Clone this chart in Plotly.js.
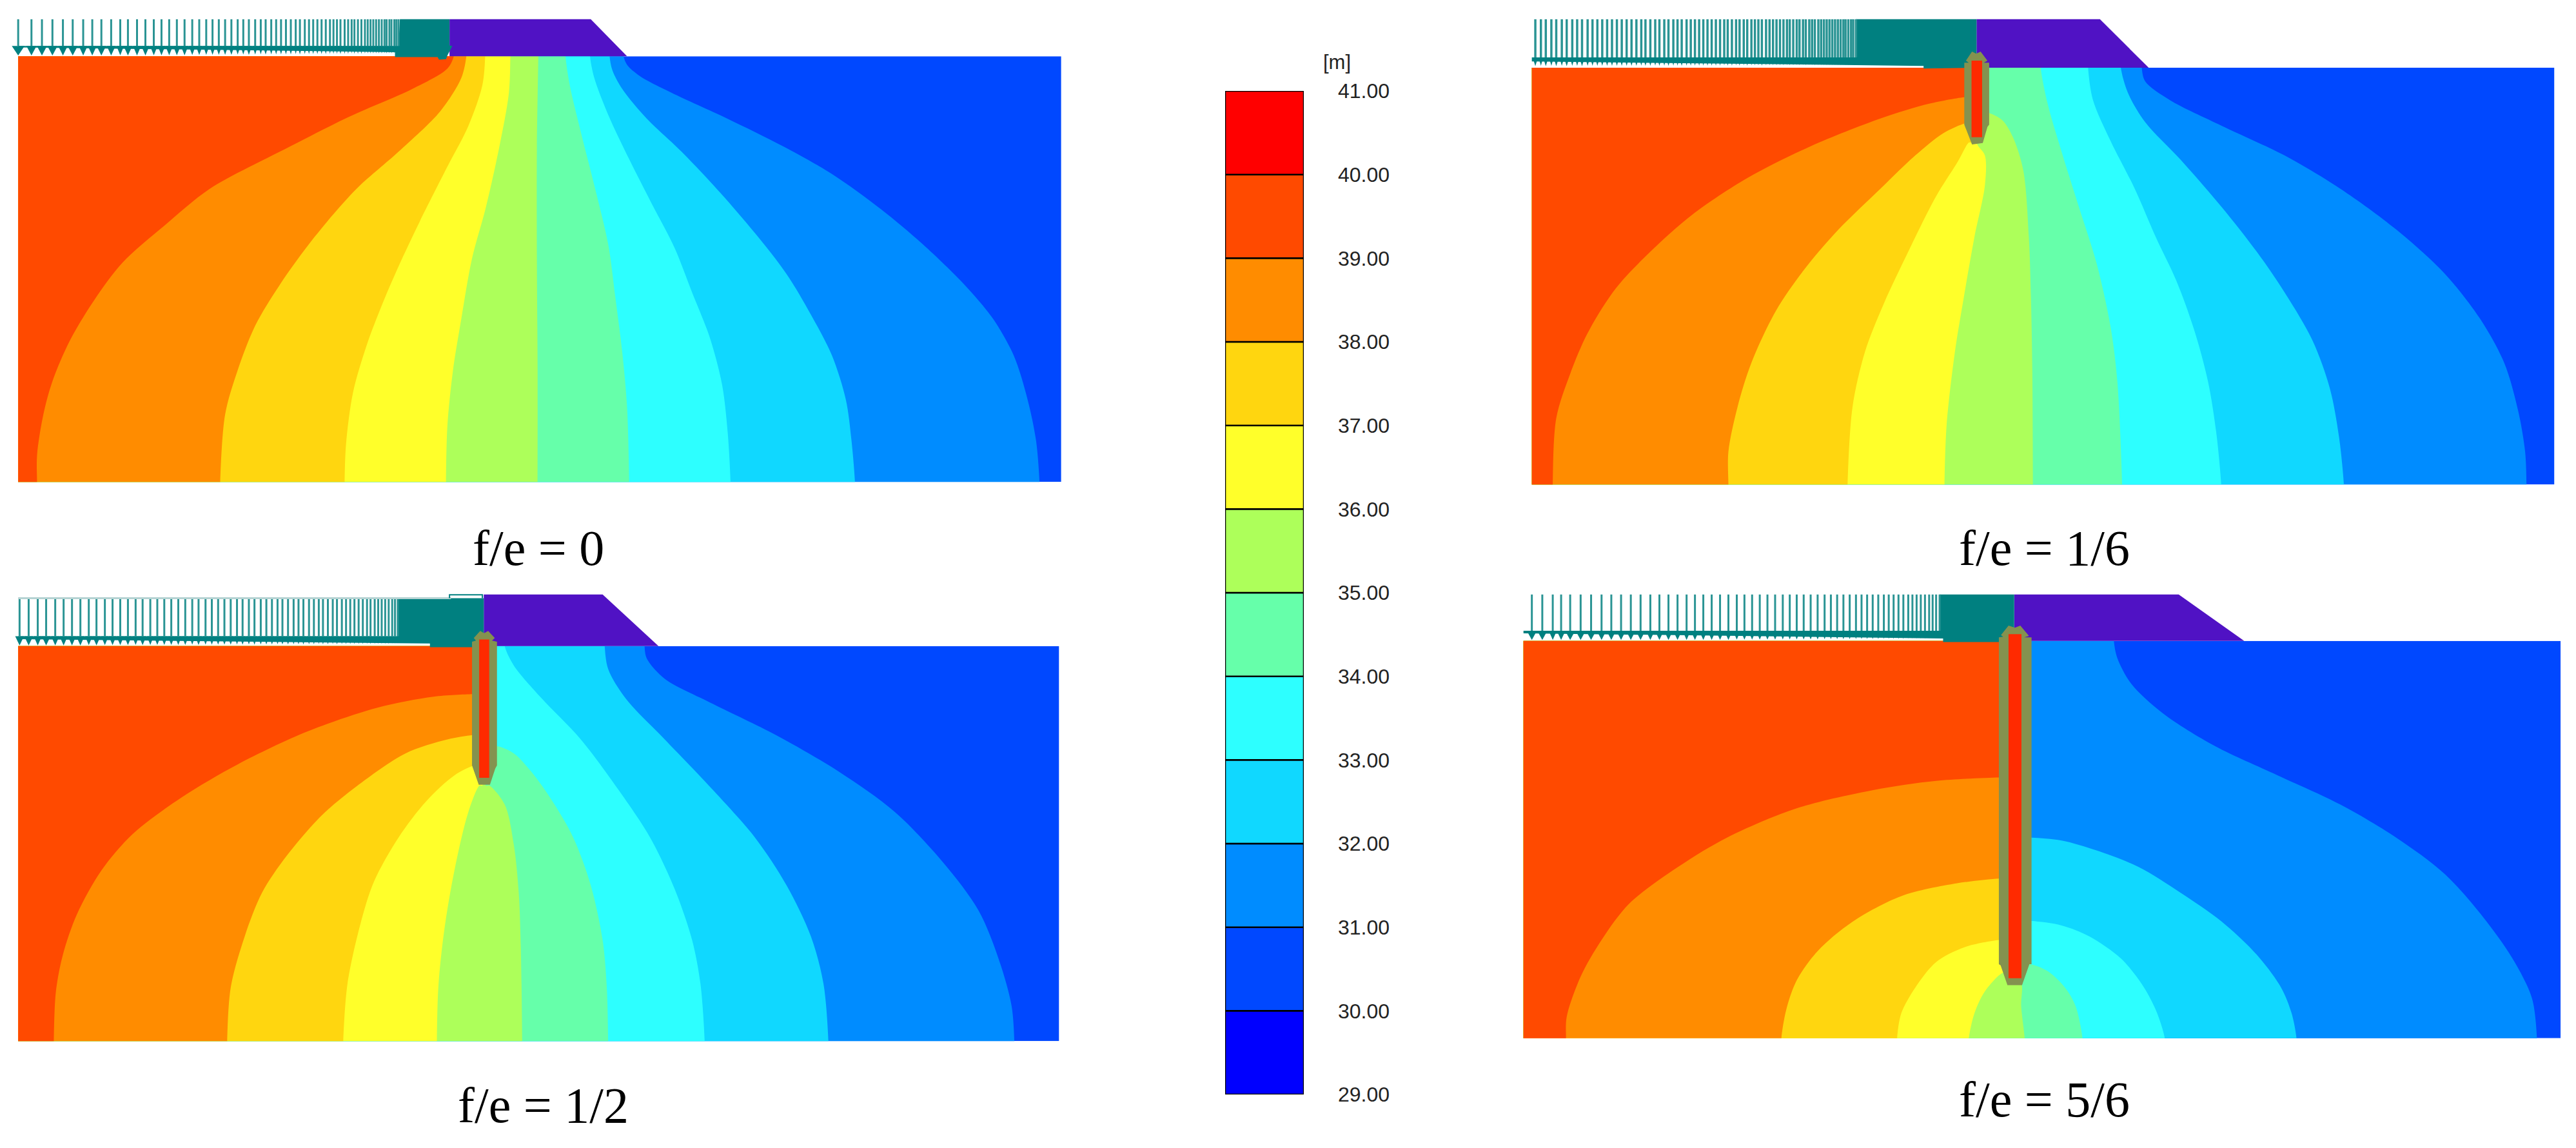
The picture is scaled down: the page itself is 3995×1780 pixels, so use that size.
<!DOCTYPE html>
<html><head><meta charset="utf-8">
<script src="https://cdn.plot.ly/plotly-3.0.1.min.js"></script>
<style>html,body{margin:0;padding:0;background:#fff;overflow:hidden}#c{width:3995px;height:1780px}</style>
</head><body><div id="c"></div>
<script>
// colour scale of total head [m]
const headTicks = [29,30,31,32,33,34,35,36,37,38,39,40,41];
const bandBase = [29,30,31,32,33,34,35,36,37,38,39,40];
const bandColors = ['#0000ff','#0048ff','#008cff','#10d8ff','#2dffff','#66ffaa','#adff5a','#ffff2a','#ffd60f','#ff8c00','#ff4a00','#ff0000'];
const captions = ['f/e = 0','f/e = 1/6','f/e = 1/2','f/e = 5/6'];

// Panel A : f/e = 0. Head contours, model units, each from crest to base
const A_rect = [26,1518,152,1302];
const A31 = [[892,152],[897,175],[915,205],[960,250],[1040,320],[1120,395],[1190,470],[1260,565],[1320,660],[1380,770],[1420,860],[1450,960],[1470,1080],[1482,1190],[1487,1302]];
const A32 = [[872,152],[876,190],[890,240],[925,320],[975,410],[1030,520],[1080,630],[1125,740],[1160,850],[1190,960],[1210,1080],[1218,1190],[1223,1302]];
const A33 = [[844,152],[850,210],[870,310],[900,430],[935,560],[965,670],[990,790],[1015,910],[1033,1040],[1041,1170],[1045,1302]];
const A34 = [[809,152],[815,230],[830,350],[850,500],[870,660],[880,800],[890,950],[897,1100],[900,1302]];
const A35 = [[770,152],[768,400],[768,700],[769,1000],[769,1302]];
const A36 = [[730,152],[728,250],[715,390],[695,560],[675,700],[660,860],[648,1000],[640,1150],[638,1302]];
const A37 = [[694,152],[690,230],[670,340],[640,450],[600,600],[570,720],[545,830],[525,930],[505,1060],[495,1200],[493,1302]];
const A38 = [[667,152],[660,210],[630,300],[570,410],[510,510],[450,640],[400,770],[365,880],[340,1000],[322,1120],[315,1302]];
const A39 = [[649,152],[640,185],[590,240],[500,315],[400,410],[300,510],[235,610],[175,710],[135,810],[100,920],[75,1030],[62,1120],[53,1230],[53,1302]];
const A_fill = [[643,52],[845,52],[897,152],[643,152]];
const A_load = [[572,52],[643,52],[643,123],[647,124],[640,150],[638,160],[628,161],[626,154],[565,154],[565,141],[26,128],[26,124],[570,124]];
const A_arrows = [26,45,60,75,90,104,119,132,145,159,172,183,196,208,220,231,242,253,264,275,285,295,304,313,322,331,340,348,356,365,373,380,388,395,402,409,416,423,429,436,442,448,454,460,466,472,477,482,487,493,498,503,507,512,517,522,526,530,534,538,542,546,550,553,557,560,564,567,570];
const A_arrowY = [52,124,150];

// Panel B : f/e = 1/6
const B_rect = [70,1537,183,1309];
const B31 = [[945,183],[950,220],[985,270],[1060,340],[1150,420],[1230,510],[1310,620],[1380,740],[1430,860],[1465,980],[1485,1110],[1495,1220],[1497,1309]];
const B32 = [[915,183],[925,250],[950,330],[1000,430],[1060,560],[1110,680],[1150,790],[1190,920],[1215,1050],[1228,1180],[1235,1309]];
const B33 = [[868,183],[875,270],[900,380],[935,510],[965,640],[995,760],[1020,890],[1040,1030],[1052,1170],[1059,1309]];
const B34 = [[800,183],[810,280],[830,410],[855,560],[880,710],[900,880],[910,1030],[917,1309]];
const B35 = [[710,183],[710,305],[725,305],[745,325],[760,370],[775,460],[783,640],[786,800],[788,1000],[789,1309]];
const B36 = [[708,183],[708,385],[720,420],[720,500],[705,640],[690,800],[677,950],[665,1150],[662,1309]];
const B37 = [[700,183],[700,385],[697,385],[680,440],[650,530],[610,680],[575,820],[548,950],[530,1100],[523,1309]];
const B38 = [[700,183],[700,333],[692,333],[660,360],[620,420],[570,510],[510,620],[460,730],[420,840],[385,980],[365,1100],[352,1220],[352,1309]];
const B39 = [[700,183],[700,262],[692,262],[640,280],[570,320],[470,395],[380,480],[300,580],[240,680],[190,780],[150,900],[125,1010],[105,1130],[100,1309]];
const B_fill = [[708,52],[885,52],[955,183],[708,183]];
const B_load = [[535,52],[708,52],[708,183],[632,185],[632,178],[70,166],[70,155],[535,155]];
const B_arrows = [75,83,90,98,105,113,120,128,135,142,150,157,164,171,178,185,192,199,206,213,220,227,233,240,247,253,260,266,273,279,285,292,298,304,310,316,322,328,334,340,346,351,357,363,368,374,379,385,390,395,400,406,411,416,421,426,431,436,440,445,450,454,459,463,468,472,476,481,485,489,493,497,501,505,509,513,517,520,524,528,531,535];
const B_arrowY = [52,155,181];
const B_wall = [[690.4,169.6],[696.8,169.6],[692.8,163.8],[701.5,139.4],[707.6,145.2],[713.8,139.4],[723.6,163.8],[718.4,169.6],[726.1,169.6],[726.1,336.8],[723.6,342.6],[716.9,386.2],[701.5,390.2],[692.2,342.6],[690.4,336.8]];
const B_core = [[700.8,163.8],[716,163.8],[716,370.5],[700.8,370.5]];

// Panel C : f/e = 1/2
const C_rect = [26,1515,197,1276];
const C31 = [[922,197],[925,230],[950,285],[1020,355],[1110,440],[1200,540],[1280,650],[1350,790],[1400,920],[1430,1060],[1447,1180],[1451,1276]];
const C32 = [[865,197],[870,260],[895,340],[950,450],[1020,590],[1080,720],[1125,850],[1160,990],[1178,1120],[1185,1276]];
const C33 = [[722,197],[735,250],[775,340],[830,450],[885,590],[930,720],[965,860],[990,1000],[1002,1120],[1008,1276]];
const C34 = [[700,197],[700,470],[711,470],[735,490],[760,540],[790,620],[820,720],[845,850],[862,1000],[868,1130],[870,1276]];
const C35 = [[695,197],[695,578],[700,578],[722,630],[735,740],[742,870],[745,1020],[747,1276]];
const C36 = [[690,197],[690,578],[686,578],[670,650],[650,810],[635,980],[627,1130],[625,1276]];
const C37 = [[690,197],[690,522],[680,522],[650,550],[610,620],[570,720],[535,840],[515,960],[497,1120],[491,1276]];
const C38 = [[690,197],[690,440],[676,440],[640,452],[580,490],[510,580],[460,660],[410,770],[375,870],[350,990],[330,1130],[325,1276]];
const C39 = [[690,197],[690,328],[676,328],[620,335],[540,365],[440,430],[340,520],[260,610],[190,710],[145,810],[110,930],[90,1040],[80,1140],[77,1276]];
const C_fill = [[692,56],[862,56],[942,197],[692,197]];
const C_load = [[568,66],[692,66],[692,197],[676,200],[615,200],[615,190],[26,178],[26,170],[568,170]];
const C_arrows = [28,41,54,66,79,91,103,115,127,138,150,161,172,183,194,204,215,225,235,245,255,265,275,284,294,303,312,321,330,339,347,356,364,373,381,389,397,404,412,420,427,434,442,449,456,462,469,476,482,489,495,501,507,513,519,525,530,536,541,546,551,556,561,565,569];
const C_arrowY = [66,170,195];
const C_wall = [[675.2,185],[680.8,182],[677.7,175],[686.9,155.6],[692.5,161.5],[698.3,155.6],[707.8,175],[703.8,182],[710.9,185],[710.9,522.7],[708.4,531.5],[700.8,575.5],[684.8,575.5],[676.8,531.5],[675.2,522.7]];
const C_core = [[685.4,179],[699.8,179],[699.8,556.7],[685.4,556.7]];
const C_capBox = [[643,66],[643,57],[690,57],[690,66]];
const C_capRule = [[26,66],[645,66]];

// Panel D : f/e = 5/6
const D_rect = [58,1546,183,1268];
const D31 = [[905,183],[910,230],[930,300],[975,380],[1050,470],[1140,550],[1230,630],[1310,720],[1380,820],[1440,950],[1480,1060],[1505,1160],[1512,1268]];
const D32 = [[770,183],[770,720],[787,720],[830,728],[880,755],[940,800],[1000,870],[1060,950],[1110,1040],[1145,1130],[1160,1200],[1167,1268]];
const D33 = [[770,183],[770,948],[787,948],[830,960],[870,990],[915,1050],[945,1120],[965,1190],[978,1268]];
const D34 = [[770,183],[770,1066],[785,1066],[810,1085],[835,1130],[850,1180],[860,1268]];
const D35 = [[762,183],[762,1120],[772,1120],[772,1180],[777,1268]];
const D36 = [[755,183],[755,1090],[745,1090],[720,1140],[705,1200],[697,1268]];
const D37 = [[755,183],[755,1000],[740,1000],[690,1020],[650,1060],[620,1130],[600,1200],[594,1268]];
const D38 = [[755,183],[755,832],[740,832],[680,845],[600,880],[530,950],[480,1030],[450,1110],[435,1190],[428,1268]];
const D39 = [[755,183],[755,556],[740,556],[650,565],[560,590],[450,640],[350,720],[280,800],[210,900],[170,1000],[140,1100],[120,1210],[119,1268]];
const D_fill = [[762,56],[998,56],[1092,183],[762,183]];
const D_load = [[655,56],[762,56],[762,186],[660,186],[660,176],[58,162],[58,155],[655,155]];
const D_arrows = [70,85,100,112,125,140,155,170,184,198,212,226,240,253,266,279,292,304,316,328,340,352,364,375,386,397,408,419,430,440,450,460,470,480,490,499,508,517,526,535,543,551,559,567,575,582,589,596,603,610,616,622,628,634,640,645,650,655];
const D_arrowY = [56,155,180];
const D_wall = [[740,173.2],[746.2,171.5],[743,167],[753.9,141],[763.1,146.8],[770.8,141],[783.2,169.1],[776.4,173.2],[786.9,173.2],[786.9,1066],[783.8,1066],[773.3,1123],[752.3,1123],[742.5,1069],[740,1066]];
const D_core = [[753.9,164.4],[772.4,164.4],[772.4,1104],[753.9,1104]];

const W=3995,H=1780,UNIT=1568;
const COL={fill:'#5012c4',load:'#008080',wall:'#84924f',core:'#ff2a00'};
const frames=[[0,0,1700,900],[2300,0,1695,900],[0,890,1700,890],[2300,890,1695,890]];
const panels=[
 {rect:A_rect,curves:[A31,A32,A33,A34,A35,A36,A37,A38,A39],fill:A_fill,load:A_load,arrows:A_arrows,ay:A_arrowY,sw:3},
 {rect:B_rect,curves:[B31,B32,B33,B34,B35,B36,B37,B38,B39],fill:B_fill,load:B_load,arrows:B_arrows,ay:B_arrowY,wall:B_wall,core:B_core,sw:3.5},
 {rect:C_rect,curves:[C31,C32,C33,C34,C35,C36,C37,C38,C39],fill:C_fill,load:C_load,arrows:C_arrows,ay:C_arrowY,wall:C_wall,core:C_core,sw:3},
 {rect:D_rect,curves:[D31,D32,D33,D34,D35,D36,D37,D38,D39],fill:D_fill,load:D_load,arrows:D_arrows,ay:D_arrowY,wall:D_wall,core:D_core,sw:3}
];
const capPos=[[835,850],[3170,850],[842,1713],[3170,1704]];
const traces=[];const layout={width:W,height:H,margin:{l:0,r:0,t:0,b:0},paper_bgcolor:'#fff',plot_bgcolor:'rgba(0,0,0,0)',showlegend:false,annotations:[]};
function poly(pts,color,xa,ya,smooth){
 const line={width:0,color:color};
 if(smooth){line.shape='spline';line.smoothing=0.9;}
 traces.push({type:'scatter',mode:'lines',x:pts.map(p=>p[0]),y:pts.map(p=>p[1]),fill:'toself',fillcolor:color,line:line,hoverinfo:'skip',xaxis:xa,yaxis:ya});
}
const ax={visible:false,fixedrange:true};
panels.forEach((p,i)=>{
 const f=frames[i],r=p.rect;
 const kx=f[2]/UNIT,ky=f[3]/UNIT;
 // soil section: own subplot clipped exactly to the section
 const cn=i===0?'':String(i+1),cx='x'+cn,cy='y'+cn;
 layout['xaxis'+cn]=Object.assign({},ax,{range:[r[0],r[1]],domain:[(f[0]+r[0]*kx)/W,(f[0]+r[1]*kx)/W],anchor:cy});
 layout['yaxis'+cn]=Object.assign({},ax,{range:[r[3],r[2]],domain:[1-(f[1]+r[3]*ky)/H,1-(f[1]+r[2]*ky)/H],anchor:cx});
 // structures: second subplot on top, whole frame
 const sn=String(i+5),xa='x'+sn,ya='y'+sn;
 layout['xaxis'+sn]=Object.assign({},ax,{range:[0,UNIT],domain:[f[0]/W,(f[0]+f[2])/W],anchor:ya});
 layout['yaxis'+sn]=Object.assign({},ax,{range:[UNIT,0],domain:[1-(f[1]+f[3])/H,1-f[1]/H],anchor:xa});
 poly([[r[0],r[2]],[r[1],r[2]],[r[1],r[3]],[r[0],r[3]]],bandColors[1],cx,cy);
 p.curves.forEach((c,k)=>{
  const first=c[0],last=c[c.length-1];
  const path=[[first[0],r[2]-30]].concat(c,[[last[0],r[3]+30],[r[0]-50,r[3]+30],[r[0]-50,r[2]-30]]);
  poly(path,bandColors[k+2],cx,cy,true);
 });
 poly(p.fill,COL.fill,xa,ya);
 poly(p.load,COL.load,xa,ya);
 const sx=[],sy=[];
 p.arrows.forEach((x,k)=>{
  sx.push(x,x,null);sy.push(p.ay[0],p.ay[1],null);
  const gap=(p.arrows[k+1]||x+3)-x;
  const w=gap*0.48,h=(p.ay[2]-p.ay[1])*Math.min(1,0.7+gap/40);
  poly([[x-w,p.ay[1]],[x+w,p.ay[1]],[x,p.ay[1]+h]],COL.load,xa,ya);
 });
 traces.push({type:'scatter',mode:'lines',x:sx,y:sy,line:{width:p.sw,color:'#2a9494'},hoverinfo:'skip',xaxis:xa,yaxis:ya,connectgaps:false});
 if(p.wall){poly(p.wall,COL.wall,xa,ya);poly(p.core,COL.core,xa,ya);}
 layout.annotations.push({text:captions[i],xref:'paper',yref:'paper',x:capPos[i][0]/W,y:1-capPos[i][1]/H,xanchor:'center',yanchor:'middle',showarrow:false,font:{family:'Liberation Serif',size:78,color:'#000'}});
});
traces.push({type:'scatter',mode:'lines',x:C_capRule.map(p=>p[0]),y:C_capRule.map(p=>p[1]),line:{width:3,color:'#b5d2d2'},hoverinfo:'skip',xaxis:'x7',yaxis:'y7'});
traces.push({type:'scatter',mode:'lines',x:C_capBox.map(p=>p[0]),y:C_capBox.map(p=>p[1]),line:{width:2,color:COL.load},hoverinfo:'skip',xaxis:'x7',yaxis:'y7'});
traces.push({type:'bar',x:bandBase.map(()=>0),y:bandBase.map(()=>1),base:bandBase,width:1,marker:{color:bandColors,line:{color:'#000',width:2.5}},hoverinfo:'skip',xaxis:'x9',yaxis:'y9',cliponaxis:false});
traces.push({type:'scatter',mode:'markers',x:[0],y:[29],marker:{opacity:0,size:1},hoverinfo:'skip',xaxis:'x9',yaxis:'y10'});
layout.xaxis9={visible:false,fixedrange:true,range:[-0.5,0.5],domain:[1900/W,2022/W],anchor:'y9'};
layout.yaxis9={visible:false,fixedrange:true,range:[29,41],domain:[1-1697/H,1-141/H],anchor:'x9'};
layout.yaxis10={fixedrange:true,range:[29,41],domain:[1-1690/H,1-139/H],anchor:'x9',overlaying:'y9',side:'right',showgrid:false,zeroline:false,showline:false,ticks:'',tickmode:'array',tickvals:headTicks,ticktext:headTicks.map(v=>v.toFixed(2)),ticklabelstandoff:52,tickfont:{family:'Liberation Sans',size:32,color:'#222'}};
layout.annotations.push({text:'[m]',xref:'paper',yref:'paper',x:2050/W,y:1-96/H,xanchor:'left',yanchor:'middle',showarrow:false,font:{family:'Liberation Sans',size:31,color:'#222'}});
Plotly.newPlot('c',traces,layout,{displayModeBar:false,staticPlot:true});
</script></body></html>
